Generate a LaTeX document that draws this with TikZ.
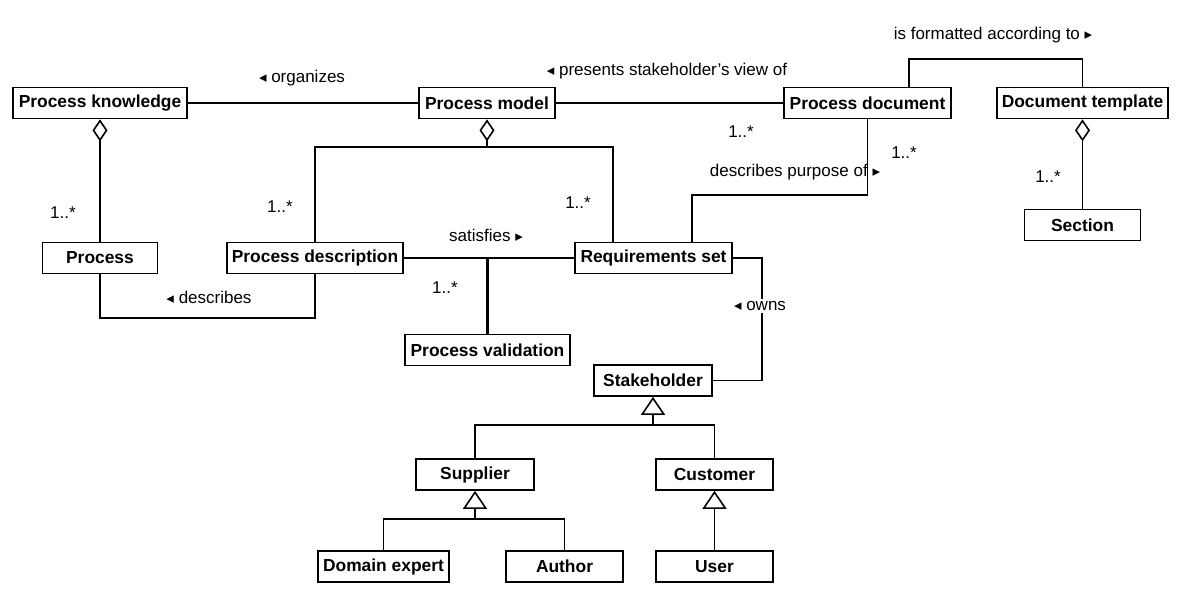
\documentclass[tikz,border=0pt]{standalone}
\usepackage{fontspec}
\setmainfont{Liberation Sans}
\newfontfamily\symfont{DejaVu Sans}
\usetikzlibrary{arrows.meta}
\newcommand\ltri{{\symfont\fontsize{7.5pt}{8pt}\selectfont ◂}}
\newcommand\rtri{{\symfont\fontsize{7.5pt}{8pt}\selectfont ▸}}
\begin{document}
\begin{tikzpicture}[x=0.5pt,y=-0.5pt,
  cls/.style={draw,line width=0.85pt,inner sep=0pt,font=\fontsize{8.7pt}{10pt}\selectfont\bfseries,minimum height=15.5pt},
  bw/.style={minimum width=#1*0.5pt},
  lbl/.style={font=\fontsize{8.5pt}{10pt}\selectfont,inner sep=1pt},
  conn/.style={line width=0.8pt},
  agg/.style={conn,-{Diamond[open,length=11pt,width=7.5pt,line width=0.8pt]}},
  gen/.style={conn,-{Triangle[open,length=9pt,width=12pt,line width=0.8pt]}}
]
\useasboundingbox (0,0) rectangle (1187,607);
% classes
\node[cls,bw=174] (pk) at (100,103) {Process knowledge};
\node[cls,bw=136] (pm) at (487,103) {Process model};
\node[cls,bw=167] (pd) at (867.5,103) {Process document};
\node[cls,bw=171] (dt) at (1082.5,103) {Document template};
\node[cls,bw=116] (sec) at (1082.5,225) {Section};
\node[cls,bw=115] (proc) at (100,258) {Process};
\node[cls,bw=176] (pdesc) at (315,258) {Process description};
\node[cls,bw=157] (rs) at (653.5,258) {Requirements set};
\node[cls,bw=165] (pv) at (487.5,350) {Process validation};
\node[cls,bw=118] (sh) at (653,380.5) {Stakeholder};
\node[cls,bw=118] (sup) at (475,474.5) {Supplier};
\node[cls,bw=117] (cust) at (714.5,474.5) {Customer};
\node[cls,bw=131] (de) at (383.5,566.5) {Domain expert};
\node[cls,bw=117] (auth) at (564.5,566.5) {Author};
\node[cls,bw=117] (user) at (714.5,566.5) {User};
% coordinates
\coordinate (a2) at (487,147);
\coordinate (rsl) at (613,147);
\coordinate (dp) at (692,195);
\coordinate (ft) at (909,59);
\coordinate (ds) at (100,318);
\coordinate (ow) at (762,258);
\coordinate (sv) at (487.5,258);
\coordinate (g1) at (653,425);
\coordinate (g2) at (475,519);
% associations
\draw[conn] (pk.east) -- (pm.west);
\draw[conn] (pm.east) -- (pd.west);
\draw[agg] (proc.north) -- (pk.south);
\draw[agg] (a2) -- (pm.south);
\draw[conn] (pdesc.north) |- (a2) -- (rsl) -- (rsl |- rs.north);
\draw[conn] (dp |- rs.north) -- (dp) -| (pd.south);
\draw[conn] (ft |- pd.north) -- (ft) -| (dt.north);
\draw[agg] (sec.north) -- (dt.south);
\draw[conn] (proc.south) -- (ds) -| (pdesc.south);
\draw[conn] (pdesc.east) -- (rs.west);
\draw[line width=1.5pt] (sv) -- (pv.north);
\draw[conn] (rs.east) -- (ow) |- (sh.east);
% generalizations
\draw[gen] (g1) -- (sh.south);
\draw[conn] (sup.north) |- (g1) -| (cust.north);
\draw[gen] (g2) -- (sup.south);
\draw[conn] (de.north) |- (g2) -| (auth.north);
\draw[gen] (user.north) -- (cust.south);
% labels
\node[lbl] (l1) at (302,78) {\ltri\ organizes};
\node[lbl] (l2) at (667,71) {\ltri\ presents stakeholder's view of};
\node[lbl] (l3) at (993,35) {is formatted according to \rtri};
\node[lbl] (l4) at (795,172) {describes purpose of \rtri};
\node[lbl] (l5) at (486,235) {satisfies \rtri};
\node[lbl] (l6) at (209,297) {\ltri\ describes};
\node[lbl,fill=white] (l7) at (760,306) {\ltri\ owns};
\node[lbl] (m1) at (741,132) {1..*};
\node[lbl] (m2) at (904,153) {1..*};
\node[lbl] (m3) at (1048,177) {1..*};
\node[lbl] (m4) at (63,213) {1..*};
\node[lbl] (m5) at (280,207) {1..*};
\node[lbl] (m6) at (578,203) {1..*};
\node[lbl] (m7) at (445,288) {1..*};
\end{tikzpicture}
\end{document}
